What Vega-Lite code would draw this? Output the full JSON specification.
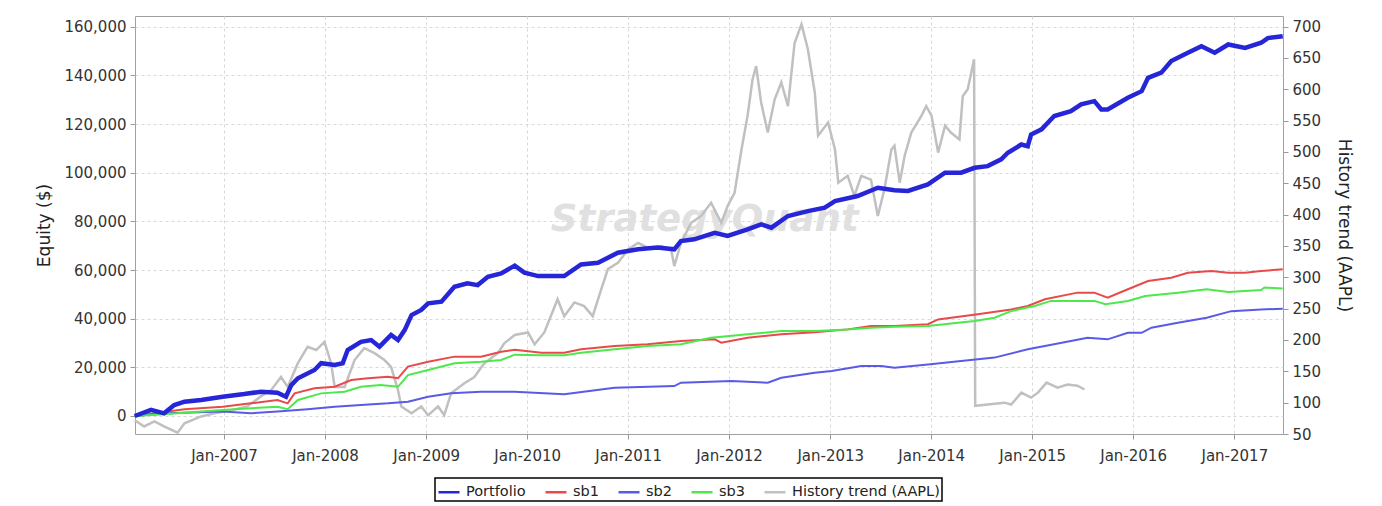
{
  "$schema": "https://vega.github.io/schema/vega-lite/v6.json",
  "autosize": {"type": "none"},
  "padding": {"left": 135, "top": 16, "right": 99, "bottom": 72},
  "width": 1148,
  "height": 418,
  "background": "white",
  "datasets": {
    "equity": [
      {"series": "Portfolio", "date": "2006-02-12", "value": 0},
      {"series": "Portfolio", "date": "2006-04-12", "value": 2500},
      {"series": "Portfolio", "date": "2006-05-29", "value": 1100},
      {"series": "Portfolio", "date": "2006-07-05", "value": 4500},
      {"series": "Portfolio", "date": "2006-08-11", "value": 5900},
      {"series": "Portfolio", "date": "2006-10-10", "value": 6600},
      {"series": "Portfolio", "date": "2006-12-27", "value": 7900},
      {"series": "Portfolio", "date": "2007-03-15", "value": 9000},
      {"series": "Portfolio", "date": "2007-05-14", "value": 10000},
      {"series": "Portfolio", "date": "2007-07-13", "value": 9600},
      {"series": "Portfolio", "date": "2007-08-13", "value": 7900},
      {"series": "Portfolio", "date": "2007-09-01", "value": 12700},
      {"series": "Portfolio", "date": "2007-09-25", "value": 15500},
      {"series": "Portfolio", "date": "2007-11-24", "value": 18900},
      {"series": "Portfolio", "date": "2007-12-18", "value": 21700},
      {"series": "Portfolio", "date": "2008-02-05", "value": 21000},
      {"series": "Portfolio", "date": "2008-03-05", "value": 21700},
      {"series": "Portfolio", "date": "2008-03-23", "value": 27100},
      {"series": "Portfolio", "date": "2008-05-10", "value": 30500},
      {"series": "Portfolio", "date": "2008-06-16", "value": 31200},
      {"series": "Portfolio", "date": "2008-07-16", "value": 28500},
      {"series": "Portfolio", "date": "2008-08-27", "value": 33300},
      {"series": "Portfolio", "date": "2008-09-21", "value": 31200},
      {"series": "Portfolio", "date": "2008-10-15", "value": 35300},
      {"series": "Portfolio", "date": "2008-11-09", "value": 41500},
      {"series": "Portfolio", "date": "2008-12-14", "value": 43600},
      {"series": "Portfolio", "date": "2009-01-08", "value": 46300},
      {"series": "Portfolio", "date": "2009-02-25", "value": 47000},
      {"series": "Portfolio", "date": "2009-04-13", "value": 53100},
      {"series": "Portfolio", "date": "2009-05-30", "value": 54500},
      {"series": "Portfolio", "date": "2009-07-06", "value": 53800},
      {"series": "Portfolio", "date": "2009-08-12", "value": 57200},
      {"series": "Portfolio", "date": "2009-09-29", "value": 58600},
      {"series": "Portfolio", "date": "2009-11-17", "value": 61800},
      {"series": "Portfolio", "date": "2009-12-22", "value": 58900},
      {"series": "Portfolio", "date": "2010-02-10", "value": 57500},
      {"series": "Portfolio", "date": "2010-05-15", "value": 57500},
      {"series": "Portfolio", "date": "2010-07-15", "value": 62300},
      {"series": "Portfolio", "date": "2010-09-14", "value": 63000},
      {"series": "Portfolio", "date": "2010-11-25", "value": 67100},
      {"series": "Portfolio", "date": "2011-02-06", "value": 68500},
      {"series": "Portfolio", "date": "2011-04-17", "value": 69200},
      {"series": "Portfolio", "date": "2011-06-17", "value": 68500},
      {"series": "Portfolio", "date": "2011-07-11", "value": 71900},
      {"series": "Portfolio", "date": "2011-08-28", "value": 72600},
      {"series": "Portfolio", "date": "2011-11-10", "value": 75300},
      {"series": "Portfolio", "date": "2011-12-27", "value": 74000},
      {"series": "Portfolio", "date": "2012-03-08", "value": 76700},
      {"series": "Portfolio", "date": "2012-04-26", "value": 78800},
      {"series": "Portfolio", "date": "2012-06-02", "value": 77400},
      {"series": "Portfolio", "date": "2012-08-01", "value": 82200},
      {"series": "Portfolio", "date": "2012-10-12", "value": 84200},
      {"series": "Portfolio", "date": "2012-12-12", "value": 85600},
      {"series": "Portfolio", "date": "2013-01-18", "value": 88300},
      {"series": "Portfolio", "date": "2013-04-10", "value": 90400},
      {"series": "Portfolio", "date": "2013-06-22", "value": 93800},
      {"series": "Portfolio", "date": "2013-08-21", "value": 92800},
      {"series": "Portfolio", "date": "2013-10-09", "value": 92500},
      {"series": "Portfolio", "date": "2013-12-20", "value": 95200},
      {"series": "Portfolio", "date": "2014-02-20", "value": 100000},
      {"series": "Portfolio", "date": "2014-04-19", "value": 100000},
      {"series": "Portfolio", "date": "2014-06-07", "value": 102000},
      {"series": "Portfolio", "date": "2014-07-24", "value": 102700},
      {"series": "Portfolio", "date": "2014-09-11", "value": 105500},
      {"series": "Portfolio", "date": "2014-10-05", "value": 108200},
      {"series": "Portfolio", "date": "2014-11-23", "value": 111600},
      {"series": "Portfolio", "date": "2014-12-16", "value": 110900},
      {"series": "Portfolio", "date": "2014-12-28", "value": 115700},
      {"series": "Portfolio", "date": "2015-02-04", "value": 117800},
      {"series": "Portfolio", "date": "2015-03-22", "value": 123300},
      {"series": "Portfolio", "date": "2015-05-21", "value": 125300},
      {"series": "Portfolio", "date": "2015-06-27", "value": 128100},
      {"series": "Portfolio", "date": "2015-08-14", "value": 129400},
      {"series": "Portfolio", "date": "2015-09-08", "value": 126000},
      {"series": "Portfolio", "date": "2015-10-01", "value": 126000},
      {"series": "Portfolio", "date": "2015-12-13", "value": 130800},
      {"series": "Portfolio", "date": "2016-02-01", "value": 133500},
      {"series": "Portfolio", "date": "2016-02-24", "value": 139000},
      {"series": "Portfolio", "date": "2016-04-12", "value": 141100},
      {"series": "Portfolio", "date": "2016-05-18", "value": 145900},
      {"series": "Portfolio", "date": "2016-07-17", "value": 149300},
      {"series": "Portfolio", "date": "2016-09-04", "value": 152000},
      {"series": "Portfolio", "date": "2016-10-22", "value": 149300},
      {"series": "Portfolio", "date": "2016-12-10", "value": 152700},
      {"series": "Portfolio", "date": "2017-02-09", "value": 151300},
      {"series": "Portfolio", "date": "2017-04-08", "value": 153400},
      {"series": "Portfolio", "date": "2017-05-02", "value": 155300},
      {"series": "Portfolio", "date": "2017-06-25", "value": 156100},

      {"series": "sb1", "date": "2006-02-12", "value": 0},
      {"series": "sb1", "date": "2006-06-11", "value": 1800},
      {"series": "sb1", "date": "2006-08-11", "value": 2800},
      {"series": "sb1", "date": "2006-12-27", "value": 3800},
      {"series": "sb1", "date": "2007-04-08", "value": 5200},
      {"series": "sb1", "date": "2007-07-13", "value": 6600},
      {"series": "sb1", "date": "2007-08-19", "value": 5200},
      {"series": "sb1", "date": "2007-09-13", "value": 9300},
      {"series": "sb1", "date": "2007-11-24", "value": 11400},
      {"series": "sb1", "date": "2008-02-05", "value": 12000},
      {"series": "sb1", "date": "2008-04-05", "value": 14800},
      {"series": "sb1", "date": "2008-06-04", "value": 15500},
      {"series": "sb1", "date": "2008-08-16", "value": 16100},
      {"series": "sb1", "date": "2008-09-21", "value": 15500},
      {"series": "sb1", "date": "2008-10-27", "value": 20300},
      {"series": "sb1", "date": "2009-01-08", "value": 22300},
      {"series": "sb1", "date": "2009-04-13", "value": 24400},
      {"series": "sb1", "date": "2009-07-18", "value": 24400},
      {"series": "sb1", "date": "2009-09-29", "value": 26400},
      {"series": "sb1", "date": "2009-11-17", "value": 27200},
      {"series": "sb1", "date": "2010-02-22", "value": 26000},
      {"series": "sb1", "date": "2010-05-15", "value": 26000},
      {"series": "sb1", "date": "2010-07-15", "value": 27400},
      {"series": "sb1", "date": "2010-11-13", "value": 28800},
      {"series": "sb1", "date": "2011-03-12", "value": 29500},
      {"series": "sb1", "date": "2011-07-11", "value": 30800},
      {"series": "sb1", "date": "2011-11-10", "value": 31500},
      {"series": "sb1", "date": "2011-12-04", "value": 30100},
      {"series": "sb1", "date": "2012-03-08", "value": 32200},
      {"series": "sb1", "date": "2012-07-08", "value": 33600},
      {"series": "sb1", "date": "2012-11-06", "value": 34400},
      {"series": "sb1", "date": "2013-03-05", "value": 35600},
      {"series": "sb1", "date": "2013-05-28", "value": 37000},
      {"series": "sb1", "date": "2013-08-21", "value": 37000},
      {"series": "sb1", "date": "2013-12-20", "value": 37700},
      {"series": "sb1", "date": "2014-01-26", "value": 39700},
      {"series": "sb1", "date": "2014-06-18", "value": 41800},
      {"series": "sb1", "date": "2014-10-17", "value": 43800},
      {"series": "sb1", "date": "2014-12-16", "value": 45200},
      {"series": "sb1", "date": "2015-02-16", "value": 48000},
      {"series": "sb1", "date": "2015-06-14", "value": 50700},
      {"series": "sb1", "date": "2015-08-14", "value": 50700},
      {"series": "sb1", "date": "2015-10-01", "value": 48600},
      {"series": "sb1", "date": "2015-12-13", "value": 52100},
      {"series": "sb1", "date": "2016-02-24", "value": 55500},
      {"series": "sb1", "date": "2016-05-18", "value": 56800},
      {"series": "sb1", "date": "2016-07-17", "value": 58900},
      {"series": "sb1", "date": "2016-10-10", "value": 59600},
      {"series": "sb1", "date": "2016-12-10", "value": 58900},
      {"series": "sb1", "date": "2017-02-09", "value": 58900},
      {"series": "sb1", "date": "2017-04-08", "value": 59600},
      {"series": "sb1", "date": "2017-06-25", "value": 60300},

      {"series": "sb2", "date": "2006-02-12", "value": 0},
      {"series": "sb2", "date": "2006-06-11", "value": 1100},
      {"series": "sb2", "date": "2006-12-27", "value": 1800},
      {"series": "sb2", "date": "2007-04-08", "value": 1100},
      {"series": "sb2", "date": "2007-07-13", "value": 1800},
      {"series": "sb2", "date": "2007-10-30", "value": 2800},
      {"series": "sb2", "date": "2008-02-05", "value": 3800},
      {"series": "sb2", "date": "2008-05-10", "value": 4500},
      {"series": "sb2", "date": "2008-08-16", "value": 5200},
      {"series": "sb2", "date": "2008-10-27", "value": 5900},
      {"series": "sb2", "date": "2009-01-08", "value": 7900},
      {"series": "sb2", "date": "2009-04-01", "value": 9300},
      {"series": "sb2", "date": "2009-07-18", "value": 10000},
      {"series": "sb2", "date": "2009-11-17", "value": 10000},
      {"series": "sb2", "date": "2010-05-15", "value": 8900},
      {"series": "sb2", "date": "2010-11-13", "value": 11600},
      {"series": "sb2", "date": "2011-06-17", "value": 12300},
      {"series": "sb2", "date": "2011-07-11", "value": 13700},
      {"series": "sb2", "date": "2012-01-09", "value": 14400},
      {"series": "sb2", "date": "2012-05-20", "value": 13700},
      {"series": "sb2", "date": "2012-07-08", "value": 15700},
      {"series": "sb2", "date": "2012-11-06", "value": 17800},
      {"series": "sb2", "date": "2013-01-06", "value": 18500},
      {"series": "sb2", "date": "2013-04-23", "value": 20500},
      {"series": "sb2", "date": "2013-07-04", "value": 20500},
      {"series": "sb2", "date": "2013-08-21", "value": 19800},
      {"series": "sb2", "date": "2013-12-20", "value": 21200},
      {"series": "sb2", "date": "2014-04-19", "value": 22600},
      {"series": "sb2", "date": "2014-08-18", "value": 24000},
      {"series": "sb2", "date": "2014-12-16", "value": 27400},
      {"series": "sb2", "date": "2015-02-16", "value": 28800},
      {"series": "sb2", "date": "2015-05-21", "value": 30800},
      {"series": "sb2", "date": "2015-07-20", "value": 32200},
      {"series": "sb2", "date": "2015-10-01", "value": 31500},
      {"series": "sb2", "date": "2015-12-13", "value": 34200},
      {"series": "sb2", "date": "2016-02-01", "value": 34200},
      {"series": "sb2", "date": "2016-03-07", "value": 36300},
      {"series": "sb2", "date": "2016-06-11", "value": 38300},
      {"series": "sb2", "date": "2016-09-23", "value": 40400},
      {"series": "sb2", "date": "2016-12-21", "value": 43100},
      {"series": "sb2", "date": "2017-04-08", "value": 43800},
      {"series": "sb2", "date": "2017-06-25", "value": 44100},

      {"series": "sb3", "date": "2006-02-12", "value": 0},
      {"series": "sb3", "date": "2006-06-11", "value": 800},
      {"series": "sb3", "date": "2006-10-10", "value": 1800},
      {"series": "sb3", "date": "2006-12-27", "value": 2500},
      {"series": "sb3", "date": "2007-04-08", "value": 3200},
      {"series": "sb3", "date": "2007-07-13", "value": 3800},
      {"series": "sb3", "date": "2007-08-19", "value": 2800},
      {"series": "sb3", "date": "2007-09-25", "value": 6600},
      {"series": "sb3", "date": "2007-12-18", "value": 9300},
      {"series": "sb3", "date": "2008-03-12", "value": 10000},
      {"series": "sb3", "date": "2008-05-10", "value": 12000},
      {"series": "sb3", "date": "2008-07-20", "value": 12700},
      {"series": "sb3", "date": "2008-09-21", "value": 12000},
      {"series": "sb3", "date": "2008-10-27", "value": 16800},
      {"series": "sb3", "date": "2009-01-08", "value": 18900},
      {"series": "sb3", "date": "2009-04-13", "value": 21700},
      {"series": "sb3", "date": "2009-07-18", "value": 22300},
      {"series": "sb3", "date": "2009-09-29", "value": 23000},
      {"series": "sb3", "date": "2009-11-17", "value": 25200},
      {"series": "sb3", "date": "2010-02-22", "value": 25000},
      {"series": "sb3", "date": "2010-05-15", "value": 25000},
      {"series": "sb3", "date": "2010-07-15", "value": 26000},
      {"series": "sb3", "date": "2010-11-13", "value": 27400},
      {"series": "sb3", "date": "2011-03-12", "value": 28800},
      {"series": "sb3", "date": "2011-07-11", "value": 29500},
      {"series": "sb3", "date": "2011-10-28", "value": 32200},
      {"series": "sb3", "date": "2012-03-08", "value": 33600},
      {"series": "sb3", "date": "2012-07-08", "value": 34900},
      {"series": "sb3", "date": "2012-11-06", "value": 34900},
      {"series": "sb3", "date": "2013-03-05", "value": 35600},
      {"series": "sb3", "date": "2013-05-28", "value": 36300},
      {"series": "sb3", "date": "2013-08-21", "value": 36700},
      {"series": "sb3", "date": "2013-12-20", "value": 37000},
      {"series": "sb3", "date": "2014-06-07", "value": 39000},
      {"series": "sb3", "date": "2014-08-18", "value": 40400},
      {"series": "sb3", "date": "2014-10-17", "value": 43100},
      {"series": "sb3", "date": "2015-01-10", "value": 45200},
      {"series": "sb3", "date": "2015-03-10", "value": 47300},
      {"series": "sb3", "date": "2015-08-14", "value": 47300},
      {"series": "sb3", "date": "2015-09-23", "value": 45900},
      {"series": "sb3", "date": "2015-12-13", "value": 47300},
      {"series": "sb3", "date": "2016-02-14", "value": 49300},
      {"series": "sb3", "date": "2016-06-11", "value": 50700},
      {"series": "sb3", "date": "2016-09-23", "value": 52100},
      {"series": "sb3", "date": "2016-12-10", "value": 51000},
      {"series": "sb3", "date": "2017-04-08", "value": 51800},
      {"series": "sb3", "date": "2017-04-20", "value": 52800},
      {"series": "sb3", "date": "2017-06-25", "value": 52400}
    ],
    "aapl": [
      {"series": "History trend (AAPL)", "date": "2006-02-12", "value": 72},
      {"series": "History trend (AAPL)", "date": "2006-03-18", "value": 62},
      {"series": "History trend (AAPL)", "date": "2006-04-24", "value": 70},
      {"series": "History trend (AAPL)", "date": "2006-05-29", "value": 62},
      {"series": "History trend (AAPL)", "date": "2006-07-17", "value": 52},
      {"series": "History trend (AAPL)", "date": "2006-08-11", "value": 67},
      {"series": "History trend (AAPL)", "date": "2006-10-10", "value": 78},
      {"series": "History trend (AAPL)", "date": "2006-11-28", "value": 83},
      {"series": "History trend (AAPL)", "date": "2007-01-27", "value": 88},
      {"series": "History trend (AAPL)", "date": "2007-03-26", "value": 94},
      {"series": "History trend (AAPL)", "date": "2007-05-14", "value": 110},
      {"series": "History trend (AAPL)", "date": "2007-06-20", "value": 120},
      {"series": "History trend (AAPL)", "date": "2007-07-26", "value": 141},
      {"series": "History trend (AAPL)", "date": "2007-08-19", "value": 125},
      {"series": "History trend (AAPL)", "date": "2007-09-25", "value": 163},
      {"series": "History trend (AAPL)", "date": "2007-10-30", "value": 189},
      {"series": "History trend (AAPL)", "date": "2007-11-30", "value": 184},
      {"series": "History trend (AAPL)", "date": "2007-12-30", "value": 197},
      {"series": "History trend (AAPL)", "date": "2008-01-23", "value": 163},
      {"series": "History trend (AAPL)", "date": "2008-02-05", "value": 125},
      {"series": "History trend (AAPL)", "date": "2008-03-12", "value": 125},
      {"series": "History trend (AAPL)", "date": "2008-04-17", "value": 168},
      {"series": "History trend (AAPL)", "date": "2008-05-22", "value": 187},
      {"series": "History trend (AAPL)", "date": "2008-06-28", "value": 179},
      {"series": "History trend (AAPL)", "date": "2008-08-03", "value": 168},
      {"series": "History trend (AAPL)", "date": "2008-08-27", "value": 157},
      {"series": "History trend (AAPL)", "date": "2008-09-21", "value": 120},
      {"series": "History trend (AAPL)", "date": "2008-10-03", "value": 94},
      {"series": "History trend (AAPL)", "date": "2008-11-09", "value": 83},
      {"series": "History trend (AAPL)", "date": "2008-12-14", "value": 94},
      {"series": "History trend (AAPL)", "date": "2009-01-08", "value": 80},
      {"series": "History trend (AAPL)", "date": "2009-02-13", "value": 94},
      {"series": "History trend (AAPL)", "date": "2009-03-07", "value": 80},
      {"series": "History trend (AAPL)", "date": "2009-04-01", "value": 115},
      {"series": "History trend (AAPL)", "date": "2009-05-19", "value": 131},
      {"series": "History trend (AAPL)", "date": "2009-06-24", "value": 141},
      {"series": "History trend (AAPL)", "date": "2009-07-30", "value": 163},
      {"series": "History trend (AAPL)", "date": "2009-09-17", "value": 179},
      {"series": "History trend (AAPL)", "date": "2009-10-11", "value": 195},
      {"series": "History trend (AAPL)", "date": "2009-11-17", "value": 208},
      {"series": "History trend (AAPL)", "date": "2010-01-04", "value": 212},
      {"series": "History trend (AAPL)", "date": "2010-01-28", "value": 193},
      {"series": "History trend (AAPL)", "date": "2010-03-04", "value": 212},
      {"series": "History trend (AAPL)", "date": "2010-04-21", "value": 265},
      {"series": "History trend (AAPL)", "date": "2010-05-15", "value": 238},
      {"series": "History trend (AAPL)", "date": "2010-06-21", "value": 260},
      {"series": "History trend (AAPL)", "date": "2010-07-26", "value": 254},
      {"series": "History trend (AAPL)", "date": "2010-08-26", "value": 238},
      {"series": "History trend (AAPL)", "date": "2010-09-26", "value": 281},
      {"series": "History trend (AAPL)", "date": "2010-10-20", "value": 313},
      {"series": "History trend (AAPL)", "date": "2010-11-25", "value": 323},
      {"series": "History trend (AAPL)", "date": "2011-01-02", "value": 345},
      {"series": "History trend (AAPL)", "date": "2011-02-06", "value": 355},
      {"series": "History trend (AAPL)", "date": "2011-03-24", "value": 345},
      {"series": "History trend (AAPL)", "date": "2011-04-30", "value": 350},
      {"series": "History trend (AAPL)", "date": "2011-06-05", "value": 345},
      {"series": "History trend (AAPL)", "date": "2011-06-17", "value": 318},
      {"series": "History trend (AAPL)", "date": "2011-07-11", "value": 355},
      {"series": "History trend (AAPL)", "date": "2011-08-17", "value": 387},
      {"series": "History trend (AAPL)", "date": "2011-09-22", "value": 398},
      {"series": "History trend (AAPL)", "date": "2011-10-28", "value": 419},
      {"series": "History trend (AAPL)", "date": "2011-12-04", "value": 387},
      {"series": "History trend (AAPL)", "date": "2011-12-27", "value": 414},
      {"series": "History trend (AAPL)", "date": "2012-01-21", "value": 435},
      {"series": "History trend (AAPL)", "date": "2012-02-15", "value": 504},
      {"series": "History trend (AAPL)", "date": "2012-03-08", "value": 558},
      {"series": "History trend (AAPL)", "date": "2012-03-26", "value": 616},
      {"series": "History trend (AAPL)", "date": "2012-04-08", "value": 637},
      {"series": "History trend (AAPL)", "date": "2012-04-26", "value": 579},
      {"series": "History trend (AAPL)", "date": "2012-05-20", "value": 531},
      {"series": "History trend (AAPL)", "date": "2012-06-14", "value": 584},
      {"series": "History trend (AAPL)", "date": "2012-07-08", "value": 611},
      {"series": "History trend (AAPL)", "date": "2012-08-01", "value": 573},
      {"series": "History trend (AAPL)", "date": "2012-08-25", "value": 674},
      {"series": "History trend (AAPL)", "date": "2012-09-19", "value": 704},
      {"series": "History trend (AAPL)", "date": "2012-10-12", "value": 664},
      {"series": "History trend (AAPL)", "date": "2012-11-06", "value": 595},
      {"series": "History trend (AAPL)", "date": "2012-11-18", "value": 526},
      {"series": "History trend (AAPL)", "date": "2012-12-24", "value": 547},
      {"series": "History trend (AAPL)", "date": "2013-01-18", "value": 504},
      {"series": "History trend (AAPL)", "date": "2013-01-30", "value": 451},
      {"series": "History trend (AAPL)", "date": "2013-03-05", "value": 462},
      {"series": "History trend (AAPL)", "date": "2013-03-29", "value": 430},
      {"series": "History trend (AAPL)", "date": "2013-04-23", "value": 462},
      {"series": "History trend (AAPL)", "date": "2013-05-28", "value": 456},
      {"series": "History trend (AAPL)", "date": "2013-06-22", "value": 398},
      {"series": "History trend (AAPL)", "date": "2013-07-16", "value": 441},
      {"series": "History trend (AAPL)", "date": "2013-08-10", "value": 504},
      {"series": "History trend (AAPL)", "date": "2013-08-21", "value": 510},
      {"series": "History trend (AAPL)", "date": "2013-09-09", "value": 451},
      {"series": "History trend (AAPL)", "date": "2013-09-27", "value": 494},
      {"series": "History trend (AAPL)", "date": "2013-10-21", "value": 531},
      {"series": "History trend (AAPL)", "date": "2013-11-27", "value": 558},
      {"series": "History trend (AAPL)", "date": "2013-12-14", "value": 573},
      {"series": "History trend (AAPL)", "date": "2014-01-02", "value": 558},
      {"series": "History trend (AAPL)", "date": "2014-01-26", "value": 499},
      {"series": "History trend (AAPL)", "date": "2014-02-20", "value": 542},
      {"series": "History trend (AAPL)", "date": "2014-03-13", "value": 531},
      {"series": "History trend (AAPL)", "date": "2014-04-13", "value": 520},
      {"series": "History trend (AAPL)", "date": "2014-04-25", "value": 589},
      {"series": "History trend (AAPL)", "date": "2014-05-13", "value": 600},
      {"series": "History trend (AAPL)", "date": "2014-06-05", "value": 648},
      {"series": "History trend (AAPL)", "date": "2014-06-09", "value": 95},
      {"series": "History trend (AAPL)", "date": "2014-07-24", "value": 97},
      {"series": "History trend (AAPL)", "date": "2014-09-23", "value": 100},
      {"series": "History trend (AAPL)", "date": "2014-10-17", "value": 97},
      {"series": "History trend (AAPL)", "date": "2014-11-23", "value": 116},
      {"series": "History trend (AAPL)", "date": "2014-12-28", "value": 108},
      {"series": "History trend (AAPL)", "date": "2015-01-22", "value": 116},
      {"series": "History trend (AAPL)", "date": "2015-02-22", "value": 132},
      {"series": "History trend (AAPL)", "date": "2015-04-03", "value": 124},
      {"series": "History trend (AAPL)", "date": "2015-05-09", "value": 129},
      {"series": "History trend (AAPL)", "date": "2015-06-14", "value": 127},
      {"series": "History trend (AAPL)", "date": "2015-07-09", "value": 121}
    ],
    "watermark": [
      {"label": "StrategyQuant", "date": "2011-10-05", "value": 80500}
    ]
  },
  "resolve": {"scale": {"y": "independent"}, "axis": {"y": "independent"}},
  "layer": [
    {
      "data": {"name": "watermark"},
      "mark": {"type": "text", "font": "DejaVu Sans", "fontSize": 37, "fontWeight": "bold", "fontStyle": "italic", "color": "#e0e0e0", "align": "center", "baseline": "middle"},
      "encoding": {
        "x": {"field": "date", "type": "temporal",
              "scale": {"domain": [{"year": 2006, "month": 2, "date": 13}, {"year": 2017, "month": 6, "date": 26}]},
              "axis": {"title": null, "format": "%b-%Y", "tickCount": {"interval": "year", "step": 1}, "labelPadding": 9, "grid": true}},
        "y": {"field": "value", "type": "quantitative",
              "scale": {"domain": [-7400, 164400], "nice": false, "zero": false},
              "axis": null},
        "text": {"field": "label"}
      }
    },
    {
      "data": {"name": "aapl"},
      "mark": {"type": "line", "strokeWidth": 2.5, "interpolate": "linear"},
      "encoding": {
        "x": {"field": "date", "type": "temporal"},
        "y": {"field": "value", "type": "quantitative",
              "scale": {"domain": [50, 717], "nice": false, "zero": false},
              "axis": {"orient": "right", "title": "History trend (AAPL)", "values": [50,100,150,200,250,300,350,400,450,500,550,600,650,700], "grid": false, "labelPadding": 4, "titlePadding": 14}},
        "color": {"field": "series", "type": "nominal",
                  "scale": {"domain": ["Portfolio", "sb1", "sb2", "sb3", "History trend (AAPL)"], "range": ["#2626d8", "#e84a4a", "#5a5ae8", "#4ce84c", "#c0c0c0"]},
                  "legend": {"title": null}}
      }
    },
    {
      "layer": [
        {
          "data": {"name": "equity"},
          "transform": [{"filter": "datum.series !== 'Portfolio'"}],
          "mark": {"type": "line", "strokeWidth": 2},
          "encoding": {
            "x": {"field": "date", "type": "temporal"},
            "y": {"field": "value", "type": "quantitative",
                  "scale": {"domain": [-7400, 164400], "nice": false, "zero": false},
                  "axis": {"orient": "left", "title": "Equity ($)", "values": [0,20000,40000,60000,80000,100000,120000,140000,160000], "format": ",d", "grid": true, "labelPadding": 4, "titlePadding": 10}},
            "color": {"field": "series", "type": "nominal"}
          }
        },
        {
          "data": {"name": "equity"},
          "transform": [{"filter": "datum.series === 'Portfolio'"}],
          "mark": {"type": "line", "strokeWidth": 4.5},
          "encoding": {
            "x": {"field": "date", "type": "temporal"},
            "y": {"field": "value", "type": "quantitative"},
            "color": {"field": "series", "type": "nominal"}
          }
        }
      ]
    }
  ],
  "config": {
    "font": "DejaVu Sans",
    "view": {"stroke": "#a0a0a0", "strokeWidth": 1},
    "axis": {
      "labelFontSize": 15, "titleFontSize": 17, "titleFontWeight": "normal",
      "labelColor": "#333333", "titleColor": "#222222",
      "tickColor": "#999999", "tickSize": 5, "domain": false,
      "gridColor": "#d8d8d8", "gridDash": [3, 3], "gridWidth": 1
    },
    "legend": {
      "orient": "none", "legendX": 300, "legendY": 462,
      "direction": "horizontal", "columns": 5,
      "symbolType": "stroke", "symbolSize": 441, "symbolStrokeWidth": 2.5,
      "labelFontSize": 14.5, "labelColor": "#222222", "labelOffset": 5,
      "columnPadding": 14, "padding": 2,
      "strokeColor": "#000000", "strokeWidth": 1.5, "fillColor": "white"
    }
  }
}
